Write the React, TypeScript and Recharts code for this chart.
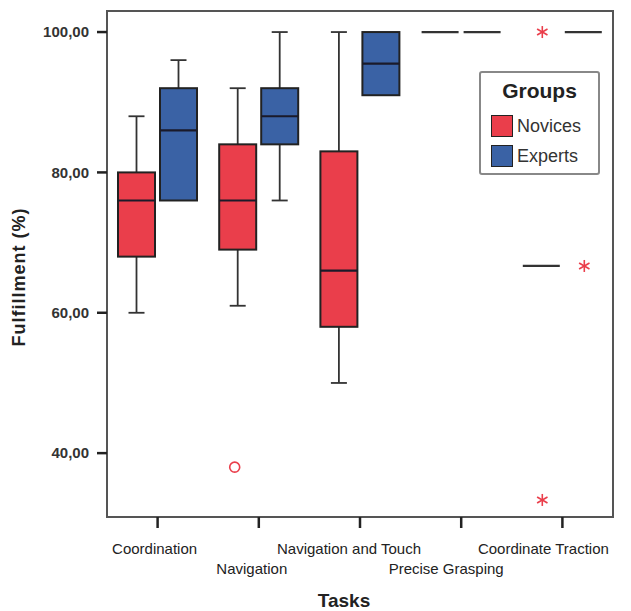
import React from 'react';
import { ComposedChart, Bar, XAxis, YAxis, ReferenceArea, Legend, Label } from 'recharts';

const tasks = ['Coordination', 'Navigation', 'Navigation and Touch', 'Precise Grasping', 'Coordinate Traction'];

// five-number summaries (Fulfillment %)
const noviceMin = [60, 61, 50, 100, 66.67];
const noviceQ1 = [68, 69, 58, 100, 66.67];
const noviceMedian = [76, 76, 66, 100, 66.67];
const noviceQ3 = [80, 84, 83, 100, 66.67];
const noviceMax = [88, 92, 100, 100, 66.67];
const noviceOutliers = [[], [{ value: 38, kind: 'circle' }], [], [], [{ value: 100, kind: 'star' }, { value: 33.33, kind: 'star' }]];

const expertMin = [76, 76, 91, 100, 100];
const expertQ1 = [76, 84, 91, 100, 100];
const expertMedian = [86, 88, 95.5, 100, 100];
const expertQ3 = [92, 92, 100, 100, 100];
const expertMax = [96, 100, 100, 100, 100];
const expertOutliers = [[], [], [], [], [{ value: 66.67, kind: 'star' }]];

const yTicks = [40, 60, 80, 100];

const Y_MIN = 30.9;
const Y_MAX = 103;

const NOVICE = '#EA3E4B';
const EXPERT = '#3A62A5';
const FONT = '"Liberation Sans", Arial, sans-serif';

const data = tasks.map((task, i) => ({
  task,
  novices: { min: noviceMin[i], q1: noviceQ1[i], median: noviceMedian[i], q3: noviceQ3[i], max: noviceMax[i], outliers: noviceOutliers[i] },
  experts: { min: expertMin[i], q1: expertQ1[i], median: expertMedian[i], q3: expertQ3[i], max: expertMax[i], outliers: expertOutliers[i] },
}));

const Star = ({ cx, cy }: { cx: number; cy: number }) => {
  const r = 6;
  const lines = [0, 60, 120].map((deg) => {
    const a = (deg * Math.PI) / 180;
    return (
      <line key={deg} x1={cx - r * Math.sin(a)} y1={cy - r * Math.cos(a)} x2={cx + r * Math.sin(a)} y2={cy + r * Math.cos(a)}
        stroke={NOVICE} strokeWidth={1.6} />
    );
  });
  return <g>{lines}</g>;
};

// the bar spans the whole y domain, so its y/height give the axis scale inside the shape
const makeBoxShape = (group: 'novices' | 'experts', fill: string) => (props: any) => {
  const { x, y, width, height, payload } = props;
  const s = payload[group];
  const toY = (v: number) => y + ((Y_MAX - v) / (Y_MAX - Y_MIN)) * height;
  const cx = x + width / 2;
  const cap = 8;
  const dark = '#222';
  const parts: React.ReactNode[] = [];

  if (s.max > s.q3) {
    parts.push(<line key="wu" x1={cx} x2={cx} y1={toY(s.q3)} y2={toY(s.max)} stroke="#333" strokeWidth={1.8} />);
    parts.push(<line key="cu" x1={cx - cap} x2={cx + cap} y1={toY(s.max)} y2={toY(s.max)} stroke="#333" strokeWidth={1.8} />);
  }
  if (s.min < s.q1) {
    parts.push(<line key="wl" x1={cx} x2={cx} y1={toY(s.q1)} y2={toY(s.min)} stroke="#333" strokeWidth={1.8} />);
    parts.push(<line key="cl" x1={cx - cap} x2={cx + cap} y1={toY(s.min)} y2={toY(s.min)} stroke="#333" strokeWidth={1.8} />);
  }
  if (s.q3 > s.q1) {
    parts.push(<rect key="box" x={x} y={toY(s.q3)} width={width} height={toY(s.q1) - toY(s.q3)} fill={fill} stroke={dark} strokeWidth={2} />);
  }
  parts.push(<line key="med" x1={x} x2={x + width} y1={toY(s.median)} y2={toY(s.median)} stroke={s.q3 > s.q1 ? '#1a1a2a' : '#333'} strokeWidth={2.2} />);

  s.outliers.forEach((o: any, k: number) => {
    const oy = toY(o.value);
    if (o.kind === 'circle') {
      parts.push(<circle key={'o' + k} cx={cx - 3} cy={oy} r={5} fill="none" stroke={NOVICE} strokeWidth={1.6} />);
    } else {
      parts.push(<Star key={'o' + k} cx={cx + 1} cy={oy} />);
    }
  });

  return <g>{parts}</g>;
};

const TaskTick = (props: any) => {
  const { x, y, payload, index } = props;
  const row = index % 2;
  return (
    <text x={x - 3 - 4 * index} y={y + 18 + row * 20} textAnchor="middle" dominantBaseline="central"
      fontSize={15} fontFamily={FONT} fill="#222">
      {payload.value}
    </text>
  );
};

const YTitle = (props: any) => {
  const vb = props.viewBox || { x: 0, y: 11, width: 107, height: 506 };
  const cx = vb.x + 19;
  const cy = vb.y + vb.height / 2 + 13;
  return (
    <text x={cx} y={cy} transform={`rotate(-90 ${cx} ${cy})`} textAnchor="middle" dominantBaseline="central"
      fontSize={18} fontWeight="bold" letterSpacing={1} fontFamily={FONT} fill="#222">
      Fulfillment (%)
    </text>
  );
};

const XTitle = (props: any) => {
  const vb = props.viewBox || { x: 107, y: 517, width: 506, height: 94 };
  const cx = vb.x + vb.width / 2 - 16;
  const cy = vb.y + 83;
  return (
    <text x={cx} y={cy} textAnchor="middle" dominantBaseline="central" fontSize={19} fontWeight="bold"
      fontFamily={FONT} fill="#222">
      Tasks
    </text>
  );
};

const GroupsLegend = () => (
  <div style={{ width: 121, height: 104, boxSizing: 'border-box', border: '2px solid #888', borderRadius: 3, background: '#fff', fontFamily: FONT, position: 'relative' }}>
    <div style={{ position: 'absolute', left: 0, right: 0, top: 6, textAlign: 'center', fontWeight: 'bold', fontSize: 21, color: '#222' }}>Groups</div>
    {[{ name: 'Novices', color: NOVICE, top: 42 }, { name: 'Experts', color: EXPERT, top: 72 }].map((g) => (
      <div key={g.name} style={{ position: 'absolute', left: 10, top: g.top, display: 'flex', alignItems: 'center' }}>
        <div style={{ width: 22, height: 22, boxSizing: 'border-box', background: g.color, border: '1.5px solid #222' }} />
        <span style={{ marginLeft: 4, fontSize: 18, color: '#333' }}>{g.name}</span>
      </div>
    ))}
  </div>
);

const App: React.FC = () => {
  return (
    <div style={{ position: 'absolute', left: 0, top: 0, background: '#fff' }}>
      <ComposedChart width={631} height={611} data={data} margin={{ top: 11, right: 18, bottom: 0, left: 0 }}
        barSize={37} barGap={5}>
        <ReferenceArea y1={Y_MIN} y2={Y_MAX} fill="none" stroke="#555" strokeWidth={2} ifOverflow="visible" />
        <XAxis dataKey="task" height={94} interval={0} axisLine={false} tickSize={11} tickMargin={2}
          tickLine={{ stroke: '#222', strokeWidth: 2.5 }} tick={<TaskTick />}>
          <Label content={<XTitle />} />
        </XAxis>
        <YAxis type="number" domain={[Y_MIN, Y_MAX]} ticks={yTicks} width={107} axisLine={false} tickSize={10} tickMargin={8}
          tickLine={{ stroke: '#222', strokeWidth: 2.5 }}
          tickFormatter={(v: number) => v.toFixed(2).replace('.', ',')}
          tick={{ fill: '#333', fontSize: 15, fontWeight: 'bold', fontFamily: FONT }}>
          <Label content={<YTitle />} />
        </YAxis>
        <Legend layout="horizontal" verticalAlign="middle" content={<GroupsLegend />}
          wrapperStyle={{ position: 'absolute', left: 479, top: 71, width: 121, height: 104 }} />
        <Bar name="Novices" dataKey={() => [Y_MIN, Y_MAX]} fill={NOVICE} shape={makeBoxShape('novices', NOVICE)} isAnimationActive={false} />
        <Bar name="Experts" dataKey={() => [Y_MIN, Y_MAX]} fill={EXPERT} shape={makeBoxShape('experts', EXPERT)} isAnimationActive={false} />
      </ComposedChart>
    </div>
  );
};

export default App;
